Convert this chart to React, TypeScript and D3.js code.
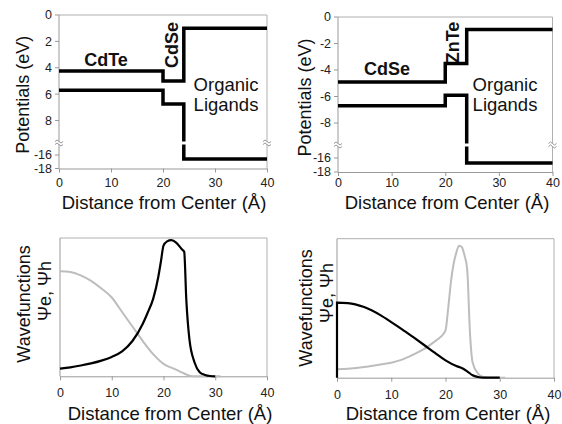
import React, { useEffect, useRef } from 'react';
import * as d3 from 'd3';

const FONT = "'Liberation Sans', Arial, sans-serif";

const distTicks = [0, 10, 20, 30, 40];

// band edges, step breakpoints along the radius (Å)
const stepX = [0, 20, 24, 40];
const cdteCB = [4.25, 5.0, 1.0, 1.0];
const cdteVB = [5.7, 6.75, -16.6, -16.6];
const cdseCB = [-4.9, -3.5, -0.95, -0.95];
const cdseVB = [-6.7, -5.9, -16.7, -16.7];

const potTicksA = [0, 2, 4, 6, 8, -16, -18];
const potTicksB = [0, -2, -4, -6, -8, -16, -18];

// wavefunctions, CdTe/CdSe
const eAx = [0, 2, 4, 6, 8, 10, 12, 14, 16, 17, 18, 19, 19.5, 20, 20.7, 21.5, 22.5, 23.5, 24, 24.4, 25, 26, 27, 28, 29, 30];
const eAy = [0.055, 0.065, 0.078, 0.093, 0.113, 0.14, 0.18, 0.255, 0.38, 0.465, 0.56, 0.72, 0.83, 0.945, 0.976, 0.985, 0.965, 0.92, 0.9, 0.56, 0.27, 0.1, 0.03, 0.01, 0.002, 0];
const hAx = [0, 2, 4, 6, 8, 10, 12, 14, 16, 18, 20, 22, 23, 24, 25, 26, 28, 31];
const hAy = [0.76, 0.755, 0.73, 0.69, 0.635, 0.57, 0.465, 0.36, 0.255, 0.16, 0.09, 0.055, 0.038, 0.02, 0.005, 0, 0, 0];

// wavefunctions, CdSe/ZnTe
const eBx = [0, 0, 2, 5, 8, 10, 12, 14, 16, 18, 20, 22, 23, 24, 25, 26, 27, 30];
const eBy = [0, 0.54, 0.537, 0.508, 0.45, 0.4, 0.348, 0.293, 0.237, 0.18, 0.125, 0.084, 0.07, 0.046, 0.017, 0.005, 0, 0];
const hBx = [0, 2, 5, 8, 10, 12, 14, 16, 18, 19, 20, 20.5, 21, 21.5, 22, 22.5, 23, 23.5, 24, 24.5, 25, 26, 27, 28, 31];
const hBy = [0.06, 0.065, 0.077, 0.095, 0.108, 0.13, 0.165, 0.205, 0.26, 0.29, 0.34, 0.5, 0.69, 0.82, 0.9, 0.95, 0.94, 0.88, 0.78, 0.33, 0.11, 0.03, 0.005, 0, 0];

type Sel = d3.Selection<SVGGElement, unknown, null, undefined>;

const frame = (g: Sel, x0: number, x1: number, top: number, bottom: number) => {
  g.append('path')
    .attr('d', `M${x0},${top}H${x1}V${bottom}`)
    .attr('fill', 'none')
    .attr('stroke', '#b0b0b0')
    .attr('stroke-width', 1);
  g.append('line')
    .attr('x1', x0).attr('x2', x0).attr('y1', top).attr('y2', bottom)
    .attr('stroke', '#999');
};

const xAxis = (g: Sel, x: d3.ScaleLinear<number, number>, bottom: number, pad: number) => {
  const ax = g.append('g')
    .attr('transform', `translate(0,${bottom})`)
    .call(d3.axisBottom(x).tickValues(distTicks).tickSize(4).tickSizeOuter(0).tickPadding(pad));
  ax.select('.domain').attr('stroke', '#999');
  ax.selectAll('.tick line').attr('stroke', '#999');
  ax.selectAll('.tick text').attr('fill', '#222').attr('font-size', 12.5).attr('font-family', FONT);
};

const label = (g: Sel, text: string, x: number, y: number, size: number, opts: { bold?: boolean; rotate?: boolean } = {}) => {
  const t = g.append('text')
    .attr('font-family', FONT)
    .attr('font-size', size)
    .attr('font-weight', opts.bold ? 'bold' : 'normal')
    .attr('text-anchor', 'middle')
    .attr('fill', '#111')
    .text(text);
  if (opts.rotate) {
    t.attr('transform', `translate(${x},${y}) rotate(-90)`).attr('dominant-baseline', 'central');
  } else {
    t.attr('x', x).attr('y', y);
  }
};

interface PotCfg {
  xr: [number, number];
  up: [number, number]; upPx: [number, number];
  lo: [number, number]; loPx: [number, number];
  top: number; bottom: number; breakY: number; pad: number;
  ticks: number[];
  cb: number[]; vb: number[];
  shell: string; core: string;
  coreAt: [number, number]; shellAt: [number, number]; orgAt: [number, number];
  yLabelX: number; xLabelX: number;
}

const drawPotential = (svg: Sel, c: PotCfg) => {
  const g = svg.append('g');
  const x = d3.scaleLinear().domain([0, 40]).range(c.xr);
  const yUp = d3.scaleLinear().domain(c.up).range(c.upPx);
  const yLo = d3.scaleLinear().domain(c.lo).range(c.loPx);
  const y = (v: number) => (v < -12 ? yLo(v) : yUp(v));
  const [x0, x1] = c.xr;

  frame(g, x0, x1, c.top, c.bottom);
  xAxis(g, x, c.bottom, c.pad);

  c.ticks.forEach(v => {
    g.append('line').attr('x1', x0 - 4).attr('x2', x0).attr('y1', y(v)).attr('y2', y(v)).attr('stroke', '#999');
    g.append('text')
      .attr('x', x0 - 7).attr('y', y(v)).attr('dy', '0.35em')
      .attr('text-anchor', 'end').attr('font-family', FONT).attr('font-size', 12.5).attr('fill', '#222')
      .text(String(v));
  });

  label(g, c.core, c.coreAt[0], c.coreAt[1], 18, { bold: true });
  label(g, c.shell, c.shellAt[0], c.shellAt[1], 18, { bold: true, rotate: true });
  label(g, 'Organic', c.orgAt[0], c.orgAt[1], 18.5);
  label(g, 'Ligands', c.orgAt[0], c.orgAt[1] + 20, 18.5);
  label(g, 'Potentials (eV)', c.yLabelX, (c.top + c.bottom) / 2 + 3, 18, { rotate: true });
  label(g, 'Distance from Center (Å)', c.xLabelX, 208.5, 18.5);

  const line = d3.line<number>().x((d, i) => x(stepX[i])).y(d => y(d)).curve(d3.curveStepAfter);
  [c.cb, c.vb].forEach(s => {
    g.append('path').attr('d', line(s)).attr('fill', 'none').attr('stroke', '#000')
      .attr('stroke-width', 3.5).attr('stroke-linejoin', 'miter');
  });

  // axis break
  g.append('rect').attr('x', x0 - 3).attr('width', x1 - x0 + 6).attr('y', c.breakY - 1.5).attr('height', 3).attr('fill', '#fff');
  [x0, x1].forEach(bx => {
    [-1.5, 1.5].forEach(dy => {
      g.append('path')
        .attr('d', `M${bx - 4},${c.breakY + dy} q2,-3 4,0 t4,0`)
        .attr('fill', 'none').attr('stroke', '#999').attr('stroke-width', 1);
    });
  });
};

interface WaveCfg {
  xr: [number, number]; top: number; bottom: number;
  e: [number[], number[]]; h: [number[], number[]];
  yLabelX: [number, number]; yLabelY: [number, number]; xLabelX: number;
}

const drawWave = (svg: Sel, c: WaveCfg) => {
  const g = svg.append('g');
  const x = d3.scaleLinear().domain([0, 40]).range(c.xr);
  const y = d3.scaleLinear().domain([0, 1]).range([c.bottom, c.top]);

  frame(g, c.xr[0], c.xr[1], c.top, c.bottom);
  xAxis(g, x, c.bottom, 8);

  label(g, 'Wavefunctions', c.yLabelX[0], c.yLabelY[0], 18, { rotate: true });
  label(g, 'Ψe, Ψh', c.yLabelX[1], c.yLabelY[1], 18, { rotate: true });
  label(g, 'Distance from Center (Å)', c.xLabelX, 419.5, 18.5);

  const draw = (s: [number[], number[]], color: string, w: number) => {
    const line = d3.line<number>().x(d => x(d)).y((d, i) => y(s[1][i])).curve(d3.curveMonotoneX);
    g.append('path').attr('d', line(s[0])).attr('fill', 'none').attr('stroke', color).attr('stroke-width', w);
  };
  draw(c.h, '#bdbdbd', 2);
  draw(c.e, '#000', 2.2);
};

const App = () => {
  const ref = useRef<SVGSVGElement>(null);

  useEffect(() => {
    const root = d3.select(ref.current);
    root.selectAll('*').remove();
    const svg = root.append('g') as unknown as Sel;

    drawPotential(svg, {
      xr: [59, 267], up: [0, 8], upPx: [15, 120.5], lo: [-16, -18], loPx: [155, 168.5],
      top: 15, bottom: 168.5, breakY: 143, pad: 5.5, ticks: potTicksA,
      cb: cdteCB, vb: cdteVB, core: 'CdTe', shell: 'CdSe',
      coreAt: [106, 65.5], shellAt: [171.5, 45], orgAt: [226, 90.5],
      yLabelX: 23, xLabelX: 164
    });
    drawPotential(svg, {
      xr: [338, 552.5], up: [0, -8], upPx: [17, 123], lo: [-16, -18], loPx: [158, 172],
      top: 17, bottom: 172, breakY: 145, pad: 2.5, ticks: potTicksB,
      cb: cdseCB, vb: cdseVB, core: 'CdSe', shell: 'ZnTe',
      coreAt: [387, 74.5], shellAt: [452.5, 42.5], orgAt: [505, 90.5],
      yLabelX: 305, xLabelX: 447
    });
    drawWave(svg, {
      xr: [60, 267], top: 238, bottom: 376.3, e: [eAx, eAy], h: [hAx, hAy],
      yLabelX: [24, 45], yLabelY: [304, 291], xLabelX: 170
    });
    drawWave(svg, {
      xr: [337, 554], top: 238.7, bottom: 377.7, e: [eBx, eBy], h: [hBx, hBy],
      yLabelX: [306, 327], yLabelY: [308, 293], xLabelX: 448
    });
  }, []);

  return (
    <svg
      ref={ref}
      width={562}
      height={424}
      style={{ position: 'absolute', left: 0, top: 0, background: '#fff' }}
    />
  );
};

export default App;
